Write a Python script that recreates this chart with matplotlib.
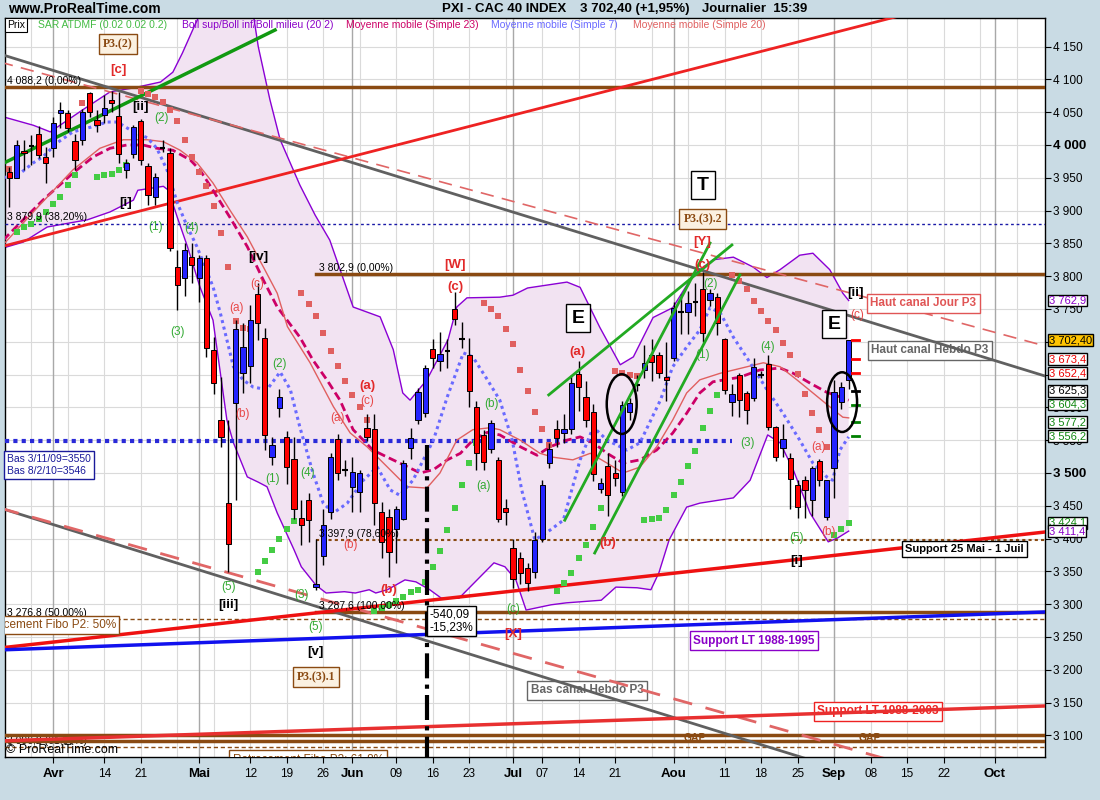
import matplotlib
matplotlib.use('Agg')
import numpy as np
import matplotlib.pyplot as plt
import matplotlib.transforms as mtransforms
from matplotlib.patches import Ellipse

plt.rcParams['font.family'] = ['Liberation Sans', 'DejaVu Sans']

# ---------------- data (bar index 0 = 1 Apr 2010, trading days) ----------------
bar_idx = list(range(-6, 110))
opens = [3959, 3950, 3991, 4001, 4017, 3982, 3995, 4049, 4049, 4006, 4008, 4079, 4038, 4046, 4069, 4044,
         3962, 3986, 4037, 3968, 3921, 3997, 3988, 3814, 3797, 3829, 3797, 3828, 3687, 3581, 3454, 3607,
         3652, 3663, 3773, 3706, 3524, 3599, 3555, 3522, 3432, 3459, 3326, 3373, 3441, 3552, 3506, 3479,
         3471, 3569, 3567, 3440, 3433, 3415, 3430, 3538, 3581, 3591, 3689, 3671, 3687, 3750, 3705, 3680,
         3600, 3558, 3537, 3520, 3446, 3386, 3370, 3355, 3349, 3400, 3515, 3567, 3561, 3567, 3651, 3616,
         3593, 3476, 3511, 3500, 3471, 3593, 3635, 3657, 3680, 3680, 3646, 3675, 3744, 3745, 3762, 3780,
         3763, 3768, 3704, 3608, 3649, 3622, 3614, 3650, 3666, 3570, 3538, 3523, 3482, 3489, 3459, 3518,
         3433, 3508, 3608, 3642]
closes = [3950, 4000, 3988, 3999, 3985, 3973, 4034, 4053, 4026, 3977, 4050, 4050, 4030, 4056, 4064, 3986,
          3973, 4027, 3977, 3924, 3951, 3995, 3843, 3787, 3840, 3817, 3828, 3691, 3637, 3555, 3392, 3720,
          3692, 3733, 3729, 3558, 3543, 3616, 3509, 3445, 3421, 3428, 3331, 3420, 3524, 3500, 3504, 3502,
          3500, 3555, 3454, 3395, 3380, 3445, 3515, 3553, 3624, 3660, 3675, 3681, 3686, 3735, 3704, 3625,
          3530, 3517, 3576, 3430, 3441, 3339, 3348, 3332, 3398, 3482, 3537, 3553, 3567, 3637, 3631, 3581,
          3498, 3485, 3467, 3492, 3604, 3607, 3634, 3668, 3669, 3652, 3642, 3751, 3745, 3759, 3761, 3714,
          3774, 3729, 3627, 3620, 3611, 3596, 3662, 3649, 3570, 3524, 3552, 3491, 3448, 3474, 3508, 3489,
          3489, 3623, 3631, 3702.4]
highs = [3966, 4008, 4008, 4015, 4029, 3997, 4043, 4066, 4053, 4017, 4055, 4081, 4053, 4076, 4082, 4081,
         3978, 4030, 4040, 3972, 3958, 4008, 3995, 3840, 3850, 3850, 3832, 3832, 3708, 3646, 3581, 3733,
         3729, 3756, 3790, 3721, 3555, 3628, 3564, 3555, 3459, 3470, 3400, 3445, 3530, 3560, 3520, 3524,
         3505, 3590, 3590, 3455, 3445, 3450, 3520, 3569, 3630, 3665, 3705, 3715, 3705, 3776, 3730, 3706,
         3610, 3565, 3580, 3525, 3460, 3400, 3380, 3362, 3410, 3490, 3545, 3580, 3590, 3650, 3670, 3640,
         3605, 3492, 3530, 3520, 3610, 3615, 3650, 3695, 3705, 3685, 3700, 3760, 3773, 3778, 3790, 3806,
         3780, 3775, 3706, 3635, 3652, 3625, 3675, 3656, 3680, 3572, 3575, 3530, 3489, 3495, 3510, 3522,
         3490, 3642, 3638, 3703]
lows = [3905, 3950, 3962, 3970, 3980, 3942, 3982, 4026, 4020, 3962, 4000, 4043, 4020, 4034, 4050, 3973,
        3950, 3980, 3970, 3908, 3908, 3989, 3838, 3748, 3770, 3790, 3760, 3677, 3620, 3539, 3349, 3459,
        3622, 3637, 3703, 3535, 3512, 3585, 3483, 3430, 3390, 3395, 3322, 3360, 3430, 3490, 3495, 3440,
        3440, 3549, 3420, 3370, 3341, 3363, 3428, 3521, 3575, 3585, 3660, 3655, 3660, 3725, 3690, 3600,
        3505, 3505, 3530, 3425, 3420, 3325, 3330, 3320, 3340, 3395, 3508, 3540, 3545, 3560, 3595, 3570,
        3488, 3470, 3434, 3480, 3465, 3580, 3625, 3645, 3640, 3645, 3610, 3670, 3712, 3712, 3740, 3700,
        3755, 3710, 3620, 3587, 3585, 3575, 3610, 3645, 3565, 3518, 3525, 3445, 3432, 3432, 3435, 3480,
        3428, 3462, 3597, 3628]

boll_up_x = [-6.85, -2.7, -0.4, 4.1, 7.8, 11, 14.7, 16.4, 17.7, 19.5, 21.5, 24, 27, 28.1, 29.7, 31.1, 33.8,
             35.9, 37.9, 41.1, 44.8, 46.6, 47.9, 48.9, 51.2, 54.1, 55.3, 56.7, 61.2, 63, 65, 70.4, 72.2,
             74.9, 77.7, 79.5, 82.2, 84.9, 87.7, 90.4, 93.2, 95.9, 97.8, 99.6, 102.3, 104.1, 106.4, 108.2, 109]
boll_up_y = [4043, 4030, 4020, 4054, 4081, 4087, 4096, 4111, 4140, 4185, 4230, 4265, 4230, 4150, 4069, 4008,
             3939, 3893, 3855, 3753, 3738, 3688, 3622, 3611, 3642, 3703, 3753, 3767, 3768, 3771, 3782, 3791,
             3783, 3722, 3665, 3677, 3737, 3752, 3802, 3825, 3829, 3814, 3798, 3810, 3832, 3835, 3810, 3774,
             3762.9]
boll_low_x = [-6.85, -4.1, -0.8, 4.7, 7.8, 11, 11.6, 15.1, 15.8, 17, 18.4, 20.1, 21.9, 23.8, 24.7, 26.6,
              28.1, 29.3, 30.7, 33, 34, 36, 37.4, 39.9, 41.4, 43.3, 44.2, 45.8, 48.2, 49.7, 51.6, 53.2, 55.6,
              60.4, 61.9, 63.4, 64.8, 68.2, 70.3, 75.1, 77.1, 80, 81.9, 83, 84.4, 86.8, 88.6, 93.2, 95.5,
              97.9, 99.6, 101.4, 103.7, 106.2, 107.5, 109]
boll_low_y = [3843, 3852, 3875, 3886, 3898, 3916, 3931, 3937, 3931, 3890, 3845, 3784, 3733, 3581, 3546, 3494,
              3486, 3479, 3439, 3383, 3357, 3329, 3317, 3319, 3317, 3322, 3317, 3322, 3337, 3334, 3322, 3309,
              3309, 3363, 3357, 3337, 3291, 3299, 3302, 3306, 3326, 3325, 3322, 3348, 3398, 3448, 3454, 3462,
              3489, 3558, 3546, 3505, 3439, 3395, 3401, 3411.4]

sma20_x = [-6.85, -1.8, 2.7, 6.4, 9.6, 12.9, 15.1, 17.4, 19.7, 21.9, 24.2, 26.6, 28.8, 30.7, 32.1, 35.2,
           38.4, 40.7, 43, 45.8, 48.5, 51.2, 53, 55.3, 57.5, 59.9, 61.2, 64, 66.7, 68.5, 71.2, 73.6, 75.9,
           78.1, 80.4, 82.7, 84.9, 86.8, 88.6, 91.4, 95.1, 97.3, 99.6, 101.9, 104.1, 106.4, 108.2, 109]
sma20_y = [3848, 3909, 3962, 3995, 4008, 4008, 4005, 3992, 3973, 3942, 3901, 3860, 3814, 3774, 3723, 3668,
           3601, 3561, 3540, 3509, 3479, 3477, 3500, 3550, 3566, 3569, 3566, 3550, 3530, 3524, 3520, 3530,
           3515, 3500, 3509, 3540, 3581, 3622, 3642, 3652, 3662, 3668, 3662, 3642, 3622, 3601, 3585, 3584]

sma23_x = [-6.85, -4.1, -1.4, 2.7, 5.5, 7.8, 10.1, 12.3, 14.2, 16.4, 18.8, 20.1, 21.9, 24.2, 26.6, 28.8,
           30.7, 33.8, 35.6, 37.5, 39.3, 41.1, 43.8, 45.8, 47.5, 50.3, 52.1, 54, 55.8, 57.5, 59.5, 61.2, 64,
           66.3, 68.1, 70.4, 72.2, 74, 75.9, 78.1, 80.4, 82.7, 84.9, 86.8, 88.6, 90.4, 94.1, 96.8, 99.6,
           101.4, 103.7, 106, 107.8, 109]
sma23_y = [3855, 3886, 3916, 3957, 3982, 3995, 4000, 4000, 3995, 3992, 3977, 3962, 3931, 3890, 3845, 3794,
           3753, 3707, 3672, 3642, 3611, 3566, 3535, 3524, 3515, 3500, 3505, 3520, 3530, 3550, 3562, 3558,
           3540, 3527, 3540, 3550, 3555, 3546, 3530, 3515, 3520, 3535, 3561, 3591, 3622, 3639, 3646, 3657,
           3660, 3652, 3637, 3623, 3616, 3611]

sma7_x = [-6.85, -4.5, -2.7, -1.4, 0.5, 2.7, 5.1, 7.4, 8.8, 11, 12.9, 14.2, 15.6, 17, 18.4, 19.7, 21.9,
          22.9, 24.7, 26, 27.4, 29.3, 31.1, 32.5, 33.8, 35.6, 37, 38.4, 40.3, 42.5, 44.4, 46.2, 47.5, 49.3,
          52.1, 54, 56.2, 57.5, 59.5, 61.2, 62.9, 64.2, 66, 68.1, 69.9, 72.2, 74, 75.9, 78.6, 80.4, 83.2,
          84.9, 86.8, 88.6, 90, 91.4, 93.2, 95.5, 97.8, 100, 102.3, 104.1, 106, 106.8, 107.8, 109]
sma7_y = [3950, 3957, 3973, 3982, 4003, 4020, 4027, 4035, 4035, 4020, 4011, 3995, 3962, 3912, 3875, 3845,
          3784, 3744, 3662, 3642, 3631, 3627, 3654, 3627, 3570, 3500, 3454, 3439, 3454, 3489, 3509, 3474,
          3466, 3489, 3550, 3616, 3683, 3677, 3642, 3611, 3550, 3474, 3398, 3413, 3428, 3520, 3570, 3550,
          3535, 3546, 3611, 3662, 3692, 3718, 3752, 3744, 3707, 3668, 3627, 3591, 3550, 3515, 3494, 3489,
          3535, 3555]

sar_green_x = [-5, -4, -3, -2, -1, 0, 1, 2, 3, 6, 7, 8, 9, 10, 28, 29, 30, 31, 32, 33,
               44, 45, 46, 47, 48, 49, 50, 51, 52, 53, 54, 55, 56, 57, 58,
               69, 70, 71, 72, 73, 74, 75, 76, 81, 82, 83, 84, 85, 86, 87, 88, 89, 90, 91, 92, 107, 108, 109]
sar_green_y = [3867, 3875, 3880, 3887, 3898, 3910, 3921, 3939, 3954, 3951, 3954, 3956, 3962, 3970,
               3349, 3366, 3383, 3399, 3415, 3427,
               3290, 3294, 3299, 3305, 3311, 3319, 3322, 3334, 3357, 3381, 3413, 3447, 3482, 3515, 3546,
               3320, 3332, 3348, 3370, 3390, 3418, 3447, 3470,
               3428, 3430, 3431, 3444, 3466, 3486, 3511, 3534, 3569, 3595, 3619, 3642, 3405, 3415, 3424.1]
sar_red_x = [-6, 4, 12, 13, 14, 15, 16, 17, 18, 19, 20, 21, 22, 23, 24, 25, 26, 27,
             34, 35, 36, 37, 38, 39, 40, 41, 42, 43, 59, 60, 61, 62, 63, 64, 65, 66, 67, 68,
             77, 78, 79, 80, 93, 94, 95, 96, 97, 98, 99, 100, 101, 102, 103, 104, 105, 106]
sar_red_y = [3963, 4064, 4082, 4078, 4073, 4066, 4053, 4037, 4008, 3982, 3959, 3938, 3907, 3866, 3814,
             3732, 3721, 3720, 3774, 3758, 3739, 3713, 3686, 3663, 3640, 3619, 3601, 3581,
             3759, 3750, 3739, 3720, 3697, 3657, 3625, 3593, 3567, 3543, 3655, 3652, 3650, 3648,
             3802, 3793, 3780, 3762, 3747, 3732, 3718, 3698, 3680, 3651, 3620, 3591, 3566, 3540]

tick_pos = [0, 7, 12, 20, 27, 32, 37, 41, 47, 52, 57, 63, 67, 72, 77, 85, 92, 97, 102, 107, 112, 117, 122, 129]
tick_lab = ['Avr', '14', '21', 'Mai', '12', '19', '26', 'Jun', '09', '16', '23', 'Jul', '07', '14', '21',
            'Aou', '11', '18', '25', 'Sep', '08', '15', '22', 'Oct']
month_pos = [0, 20, 41, 63, 85, 107, 129]

# trend lines (bar index, price)
grey_up = ([-7.3, 135.9], [4138.7, 3647.8])
salmon_up = ([-7.3, 135.9], [4126.5, 3693.6])
grey_low = ([-7.3, 135.9], [3446.6, 2951.2])
salmon_low = ([-7.3, 135.9], [3446.6, 2995.4])
green_top = ([-7.3, 30.4], [3969.5, 4175.3])
red_top = ([-7.3, 135.9], [3844.5, 4253.8])
red_sup = ([-7.3, 135.9], [3233.2, 3410.0])
blue_sup = ([-7.3, 135.9], [3230.2, 3288.1])
red_sup03 = ([-7.3, 135.9], [3091.5, 3144.8])
green_a = ([67.9, 93.0], [3619, 3847.6])
green_b = ([70.1, 90.0], [3428, 3850.6])
green_c = ([74.2, 94.1], [3378, 3802])

pivots = [3702.4, 3673.4, 3652.4, 3625.3, 3604.3, 3577.2, 3556.2]
pivot_col = ['red', 'red', 'red', 'black', 'green', 'green', 'green']

# ---------------- figure ----------------
fig = plt.figure(figsize=(11, 8), dpi=100)
fig.patch.set_facecolor('#c9dbe4')
ax = fig.add_axes([5 / 1100, 43 / 800, 1040 / 1100, 739 / 800])
ax.set_facecolor('white')
ax.set_xlim(-6.6, 135.9)
ax.set_ylim(3067, 4193.6)

for p in range(3100, 4200, 50):
    ax.axhline(p, color='#dadada', lw=0.8, zorder=0)
for i in range(-3, 136, 5):
    ax.axvline(i, color='#dadada', lw=0.8, zorder=0)
for i in month_pos:
    ax.axvline(i, color='#a8a8a8', lw=1, zorder=0.2)

# bollinger band
ax.fill(np.r_[boll_up_x, boll_low_x[::-1]], np.r_[boll_up_y, boll_low_y[::-1]],
        color='#f2e3f2', lw=0, zorder=1)
ax.plot(boll_up_x, boll_up_y, color='#8a00d4', lw=1, zorder=2)
ax.plot(boll_low_x, boll_low_y, color='#8a00d4', lw=1, zorder=2)

# horizontal levels
brown = '#8a4a12'
ax.axhline(4088.2, color=brown, lw=2.5, zorder=3)
ax.axhline(3879.9, color='#1a1aa8', lw=1, ls=(0, (2, 2)), zorder=3)
ax.plot([36, 135.9], [3802.9, 3802.9], color=brown, lw=2.5, zorder=3)
ax.plot([-6.6, 93], [3548, 3548], color='#2a2ad8', lw=3, ls=(0, (1, 1)), zorder=3)
ax.plot([36, 135.9], [3397.9, 3397.9], color=brown, lw=1.5, ls=(0, (1.5, 1.5)), zorder=3)
ax.plot([36, 135.9], [3287.6, 3287.6], color=brown, lw=2.5, zorder=3)
ax.axhline(3276.8, color=brown, lw=1, ls=(0, (3, 2)), zorder=3)
ax.axhline(3101, color=brown, lw=2.5, zorder=3)
ax.axhline(3092, color=brown, lw=2.5, zorder=3)
ax.axhline(3083, color=brown, lw=1, ls=(0, (3, 2)), zorder=3)

# trend lines
ax.plot(*grey_up, color='#606060', lw=2, zorder=3)
ax.plot(*salmon_up, color='#e06666', lw=1.2, ls=(0, (8, 5)), zorder=3)
ax.plot(*grey_low, color='#606060', lw=2, zorder=3)
ax.plot(*salmon_low, color='#e06666', lw=2, ls=(0, (7, 5)), zorder=3)
ax.plot(*green_top, color='#119911', lw=2.5, zorder=3)
ax.plot(*red_top, color='#ee2222', lw=2, zorder=3)
ax.plot(*red_sup, color='#ee1111', lw=2.5, zorder=3)
ax.plot(*blue_sup, color='#1111ee', lw=2.5, zorder=3)
ax.plot(*red_sup03, color='#e83030', lw=2.5, zorder=3)
for ln in (green_a, green_b, green_c):
    ax.plot(*ln, color='#22aa22', lw=2, zorder=7)

# moving averages
ax.plot(sma23_x, sma23_y, color='#cc0066', lw=2, ls=(0, (3, 1.5)), zorder=4)
ax.plot(sma20_x, sma20_y, color='#e06060', lw=1, zorder=4)
ax.plot(sma7_x, sma7_y, color='#6a6aff', lw=2.2, ls=(0, (1, 1.2)), zorder=4)

# SAR
ax.scatter(sar_green_x, sar_green_y, marker='s', s=14, color='#44cc44', lw=0, zorder=4)
ax.scatter(sar_red_x, sar_red_y, marker='s', s=14, color='#e06060', lw=0, zorder=4)

# candles
o = np.array(opens, float)
c = np.array(closes, float)
x = np.array(bar_idx, float)
ax.vlines(x, lows, highs, color='black', lw=1, zorder=5)
up = c >= o
body = np.abs(c - o)
doji = body < 3
ax.bar(x[~doji], body[~doji], bottom=np.minimum(o, c)[~doji], width=0.72,
       color=np.where(up, '#2424ff', '#ff0000')[~doji], edgecolor='black', lw=0.7, zorder=6)
ax.hlines(c[doji], x[doji] - 0.38, x[doji] + 0.38, color='black', lw=1.5, zorder=6)

# pivot ticks on last bar
for v, col in zip(pivots, pivot_col):
    ax.plot([109.4, 110.4], [v, v], color=col, lw=2, zorder=7)

# vertical measure line and box
ax.plot([51.2, 51.2], [3543, 3060], color='black', lw=3, ls=(0, (6, 1.5, 1, 1.5)), zorder=8)
ax.text(51.6, 3274, '-540,09\n-15,23%', fontsize=8.5, va='center', ha='left', zorder=9,
        bbox=dict(boxstyle='square,pad=0.2', fc='white', ec='black', lw=1), linespacing=1.1)

# ellipses
for cx, cy in ((77.9, 3605), (108.1, 3608)):
    ax.add_patch(Ellipse((cx, cy), 4.1, 91, fill=False, ec='black', lw=1.8, zorder=9))

# fibo labels
fs = 7.5
ax.text(-6.3, 4090, '4 088,2 (0,00%)', fontsize=fs, va='bottom', zorder=9)
ax.text(-6.3, 3882, '3 879,9 (38,20%)', fontsize=fs, va='bottom', zorder=9)
ax.text(36.4, 3805, '3 802,9 (0,00%)', fontsize=fs, va='bottom', zorder=9)
ax.text(36.4, 3400, '3 397,9 (78,60%)', fontsize=fs, va='bottom', zorder=9)
ax.text(36.4, 3290, '3 287,6 (100,00%)', fontsize=fs, va='bottom', zorder=9)
ax.text(-6.3, 3279, '3 276,8 (50,00%)', fontsize=fs, va='bottom', zorder=9)
ax.text(-6.3, 3092, '3 096,2 (61,80%)', fontsize=fs, va='center', zorder=2)
ax.text(8.6, 3268, 'Retracement Fibo P2: 50%', fontsize=8.5, color=brown, ha='right', va='center',
        clip_on=True, zorder=9, bbox=dict(boxstyle='square,pad=0.25', fc='white', ec=brown, lw=1))
ax.text(24.6, 3072, 'Retracement Fibo P2: 61,8%', fontsize=8.5, color=brown, ha='left', va='top',
        clip_on=True, zorder=9, bbox=dict(boxstyle='square,pad=0.3', fc='white', ec=brown, lw=1))
for gx in (87.9, 111.9):
    ax.text(gx, 3096, 'GAP', fontsize=7.5, color=brown, fontweight='bold', ha='center', va='center', zorder=9)

# wave labels
for t, lx, ly in [('[ii]', 11.9, 4058), ('[i]', 9.9, 3912), ('[iv]', 28.1, 3829), ('[iii]', 24, 3299),
                  ('[v]', 35.9, 3227), ('[ii]', 110, 3774), ('[i]', 101.9, 3366)]:
    ax.text(lx, ly, t, fontsize=9.5, fontweight='bold', color='black', ha='center', va='center', zorder=9)
for t, lx, ly in [('[c]', 8.9, 4114), ('[W]', 55.1, 3817), ('[Y]', 88.9, 3852), ('[X]', 63, 3255),
                  ('(c)', 55.1, 3784), ('(a)', 43, 3633), ('(b)', 46, 3322), ('(a)', 71.9, 3684),
                  ('(c)', 89, 3817), ('(b)', 76, 3393)]:
    ax.text(lx, ly, t, fontsize=9.5, fontweight='bold', color='#e22a2a', ha='center', va='center', zorder=9)
for t, lx, ly in [('(a)', 25.1, 3752), ('(b)', 25.9, 3590), ('(c)', 27.9, 3788), ('(a)', 38.9, 3584),
                  ('(c)', 43, 3610), ('(b)', 40.8, 3390), ('(a)', 104.9, 3540), ('(b)', 106.2, 3410),
                  ('(c)', 110.1, 3741)]:
    ax.text(lx, ly, t, fontsize=8.5, color='#e84848', ha='center', va='center', zorder=9)
for t, lx, ly in [('(2)', 14.9, 4041), ('(1)', 14, 3875), ('(4)', 18.9, 3873), ('(3)', 17, 3715),
                  ('(2)', 31, 3666), ('(1)', 30.1, 3491), ('(4)', 34.9, 3500), ('(5)', 24, 3326),
                  ('(3)', 34, 3314), ('(5)', 35.9, 3265), ('(b)', 60, 3605), ('(a)', 58.9, 3480),
                  ('(c)', 63, 3293), ('(2)', 90, 3788), ('(1)', 89, 3680), ('(4)', 97.9, 3692),
                  ('(3)', 95.1, 3546), ('(5)', 101.9, 3401)]:
    ax.text(lx, ly, t, fontsize=8.5, color='#33aa33', ha='center', va='center', zorder=9)

# boxed labels
for t, lx, ly in [('P3.(2)', 8.9, 4154), ('P3.(3).2', 89, 3887), ('P3.(3).1', 36, 3189)]:
    ax.text(lx, ly, t, fontsize=8.5, fontweight='bold', family='Liberation Serif', color=brown,
            ha='center', va='center', zorder=9,
            bbox=dict(boxstyle='square,pad=0.35', fc='#fbf1e1', ec=brown, lw=1))
for t, lx, ly in [('T', 89, 3939), ('E', 71.9, 3736), ('E', 107, 3727)]:
    ax.text(lx, ly, t, fontsize=14, fontweight='bold', color='black', ha='center', va='center', zorder=9,
            bbox=dict(boxstyle='square,pad=0.3', fc='white', ec='black', lw=1))
ax.text(-6.35, 3512, 'Bas 3/11/09=3550\nBas 8/2/10=3546', fontsize=7.5, color='#1a1a9a', va='center',
        linespacing=1.15, zorder=9, bbox=dict(boxstyle='square,pad=0.3', fc='white', ec='#1a1a9a', lw=1))
ax.text(124.9, 3384, 'Support 25 Mai - 1 Juil', fontsize=8, fontweight='bold', ha='center', va='center',
        zorder=9, bbox=dict(boxstyle='square,pad=0.3', fc='white', ec='black', lw=1))
ax.text(119.2, 3759, 'Haut canal Jour P3', fontsize=8.5, fontweight='bold', color='#e05555', ha='center',
        va='center', zorder=9, bbox=dict(boxstyle='square,pad=0.3', fc='white', ec='#e05555', lw=1))
ax.text(120.1, 3687, 'Haut canal Hebdo P3', fontsize=8.5, fontweight='bold', color='#666666', ha='center',
        va='center', zorder=2.5, bbox=dict(boxstyle='square,pad=0.3', fc='white', ec='#666666', lw=1))
ax.text(96, 3244, 'Support LT 1988-1995', fontsize=8.5, fontweight='bold', color='#8a00c8', ha='center',
        va='center', zorder=9, bbox=dict(boxstyle='square,pad=0.3', fc='white', ec='#8a00c8', lw=1))
ax.text(73.2, 3169, 'Bas canal Hebdo P3', fontsize=8.5, fontweight='bold', color='#666666', ha='center',
        va='center', zorder=2.5, bbox=dict(boxstyle='square,pad=0.3', fc='white', ec='#666666', lw=1))
ax.text(113, 3137, 'Support LT 1988-2003', fontsize=8.5, fontweight='bold', color='#ee2222', ha='center',
        va='center', zorder=2.5, bbox=dict(boxstyle='square,pad=0.3', fc='white', ec='#ee2222', lw=1))

# axes styling
for s in ax.spines.values():
    s.set_color('black')
    s.set_linewidth(1)
ax.yaxis.tick_right()
yt = list(range(3100, 4200, 50))
ax.set_yticks(yt)
ax.set_yticklabels([f'{v // 1000} {v % 1000:03d}' for v in yt])
ax.tick_params(axis='y', direction='out', length=4, pad=2, labelsize=8.5)
for lab, v in zip(ax.get_yticklabels(), yt):
    if v in (4000, 3500):
        lab.set_fontweight('bold')
        lab.set_fontsize(9.5)
ax.set_xticks(tick_pos)
ax.set_xticklabels(tick_lab)
ax.tick_params(axis='x', direction='out', length=4, pad=4, labelsize=8.5)
for lab in ax.get_xticklabels():
    if not lab.get_text().isdigit():
        lab.set_fontweight('bold')
        lab.set_fontsize(9.5)

# right value boxes
tr = mtransforms.blended_transform_factory(ax.transAxes, ax.transData)
for v, t, col, fc in [(3762.9, '3 762,9', '#8a00c8', 'white'), (3702.4, '3 702,40', 'black', '#ffc400'),
                      (3673.4, '3 673,4', '#ee0000', 'white'), (3652.4, '3 652,4', '#ee0000', 'white'),
                      (3625.3, '3 625,3', 'black', 'white'), (3604.3, '3 604,3', '#118811', 'white'),
                      (3577.2, '3 577,2', '#118811', 'white'), (3556.2, '3 556,2', '#118811', 'white'),
                      (3424.1, '3 424,1', '#118811', 'white'), (3411.4, '3 411,4', '#8a00c8', 'white')]:
    ax.text(1.004, v, t, transform=tr, fontsize=8, color=col, ha='left', va='center', clip_on=False,
            zorder=10, bbox=dict(boxstyle='square,pad=0.08', fc=fc, ec='black', lw=1))

# header and legend
hy = 1 - 9 / 800
fig.text(8 / 1100, hy, 'www.ProRealTime.com', fontsize=10, fontweight='bold', va='center')
fig.text(566 / 1100, hy, 'PXI - CAC 40 INDEX', fontsize=9.5, fontweight='bold', va='center', ha='right')
fig.text(580 / 1100, hy, '3 702,40 (+1,95%)', fontsize=9.5, fontweight='bold', va='center')
fig.text(702 / 1100, hy, 'Journalier  15:39', fontsize=9.5, fontweight='bold', va='center')
ly = 1 - 25 / 800
fig.text(7 / 1100, ly, 'Prix', fontsize=7.5, va='center',
         bbox=dict(boxstyle='square,pad=0.2', fc='white', ec='black', lw=0.8))
for px, t, col in [(38, 'SAR ATDMF (0.02 0.02 0.2)', '#44bb44'),
                   (182, 'Boll sup/Boll inf/Boll milieu (20 2)', '#8a00c8'),
                   (346, 'Moyenne mobile (Simple 23)', '#cc0066'),
                   (491, 'Moyenne mobile (Simple 7)', '#6a6aff'),
                   (633, 'Moyenne mobile (Simple 20)', '#e06060')]:
    fig.text(px / 1100, ly, t, fontsize=7.5, color=col, va='center')
fig.text(6 / 1100, 1 - 750 / 800, '© ProRealTime.com', fontsize=9, va='center')

fig.savefig('out.png', dpi=100, facecolor=fig.get_facecolor())
